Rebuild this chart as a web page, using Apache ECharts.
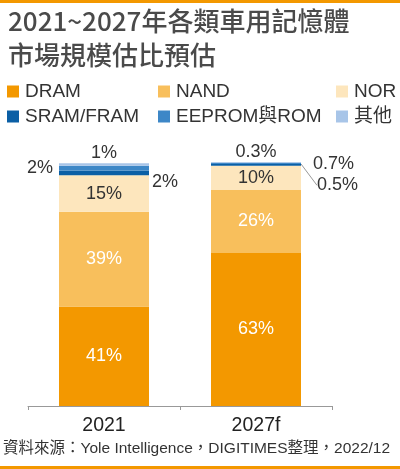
<!DOCTYPE html>
<html>
<head>
<meta charset="utf-8">
<script src="https://cdn.jsdelivr.net/npm/echarts@6/dist/echarts.min.js"></script>
<style>
	html,body{margin:0;padding:0;background:#fff;}
	#chart{width:400px;height:469px;}
</style>
</head>
<body>
<div id="chart"></div>
<script>
	// 類別與各系列數值（%）
	const years = ['2021', '2027f']
	const dram = [41, 63]
	const nand = [39, 26]
	const nor = [15, 10]
	const sram = [2, 0.7]
	const eeprom = [2, 0.5]
	const others = [1, 0.3]
	const names = ['DRAM', 'NAND', 'NOR', 'SRAM/FRAM', 'EEPROM與ROM', '其他']
	const colors = ['#f39800', '#f8bf5c', '#fde6bd', '#0b5fa5', '#3d87c7', '#a8c5e8']

	const font = '"Liberation Sans", "Noto Sans CJK TC", sans-serif'
	const cjk = '"Noto Sans CJK TC", "Liberation Sans", sans-serif'

	const myChart = echarts.init(document.getElementById('chart'))

	const insideLabel = (color) => ({
		show: true,
		position: 'inside',
		fontSize: 18,
		fontFamily: font,
		color: color,
		formatter: '{c}%'
	})

	const legendCol = (left, data) => ({
		orient: 'vertical',
		left: left,
		top: 77,
		itemWidth: 12,
		itemHeight: 12,
		itemGap: 6,
		icon: 'rect',
		textStyle: {fontSize: 19, color: '#333', fontFamily: font, padding: [0, 0, 0, 1]},
		data: data
	})

	const option = {
		backgroundColor: '#fff',
		color: colors,
		title: {
			text: '2021~2027年各類車用記憶體\n市場規模估比預估',
			left: 3,
			top: -1,
			textStyle: {fontSize: 26, lineHeight: 34, color: '#4a4a4a', fontWeight: 500, fontFamily: cjk}
		},
		legend: [
			legendCol(2, [names[0], names[3]]),
			legendCol(153, [names[1], names[4]]),
			legendCol(331, [names[2], names[5]])
		],
		grid: {left: 28, right: 68, top: 162, bottom: 63},
		xAxis: {
			type: 'category',
			data: years,
			axisLine: {lineStyle: {color: '#999', width: 1}},
			axisTick: {show: true, length: 4, lineStyle: {color: '#999'}},
			axisLabel: {fontSize: 19.5, color: '#222', fontFamily: font, margin: 10}
		},
		yAxis: {
			type: 'value',
			min: 0,
			max: 100.5,
			show: false,
			splitLine: {show: false}
		},
		graphic: [
			{type: 'rect', left: 0, top: 0, shape: {width: 400, height: 3}, style: {fill: '#f39800'}},
			{type: 'rect', left: 0, top: 466, shape: {width: 400, height: 3}, style: {fill: '#f39800'}},
			{
				type: 'text', left: 3, top: 441,
				style: {text: '資料來源：Yole Intelligence，DIGITIMES整理，2022/12', fontSize: 15.5, fill: '#333', fontFamily: font}
			}
		],
		series: [
			{name: names[0], type: 'bar', stack: 'a', barWidth: 90, data: dram, label: insideLabel('#fff')},
			{name: names[1], type: 'bar', stack: 'a', data: nand, label: insideLabel('#fff')},
			{name: names[2], type: 'bar', stack: 'a', data: nor, label: insideLabel('#333')},
			{
				name: names[3], type: 'bar', stack: 'a',
				label: {show: true, position: 'right', fontSize: 18, fontFamily: font, color: '#333', formatter: '{c}%'},
				labelLayout: function (p) {
					return p.dataIndex === 0 ? {dy: 9, dx: -2} : {dy: -1, dx: 7}
				},
				data: sram
			},
			{
				name: names[4], type: 'bar', stack: 'a',
				label: {show: true, fontSize: 18, fontFamily: font, color: '#333', formatter: '{c}%'},
				labelLayout: function (p) {
					return p.dataIndex === 1 ? {dx: 12, dy: 22} : {dx: 0}
				},
				labelLine: {show: false, lineStyle: {color: '#999', width: 1}},
				data: [
					{value: eeprom[0], label: {position: 'left', distance: 6}},
					{value: eeprom[1], label: {position: 'right', distance: 4}, labelLine: {show: true}}
				]
			},
			{
				name: names[5], type: 'bar', stack: 'a',
				label: {show: true, position: 'top', distance: 1, fontSize: 18, fontFamily: font, color: '#333', formatter: '{c}%'},
				data: others
			}
		]
	}
	myChart.setOption(option)
</script>
</body>
</html>
